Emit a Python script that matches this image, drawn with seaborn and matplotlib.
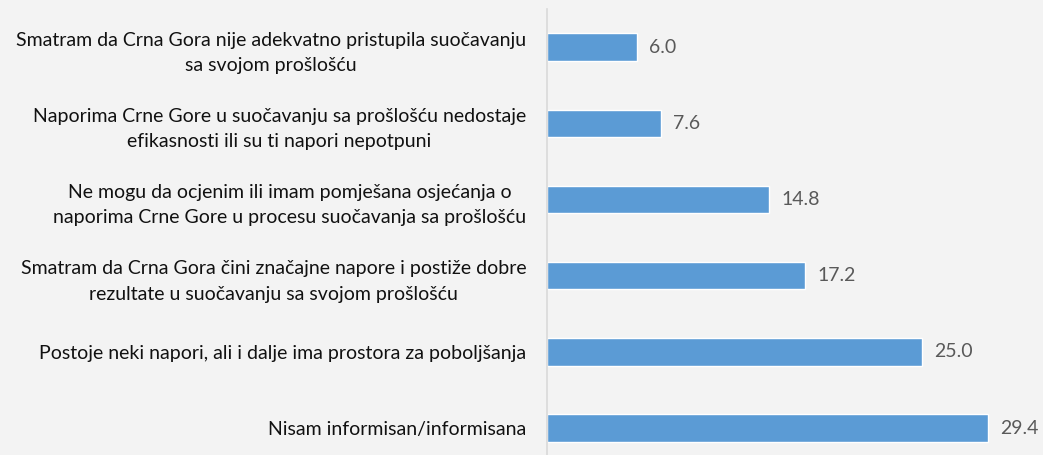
import pandas as pd
import seaborn as sns
import matplotlib.pyplot as plt

labels = [
    "Smatram da Crna Gora nije adekvatno pristupila suočavanju\nsa svojom prošlošću",
    "Naporima Crne Gore u suočavanju sa prošlošću nedostaje\nefikasnosti ili su ti napori nepotpuni",
    "Ne mogu da ocjenim ili imam pomješana osjećanja o\nnaporima Crne Gore u procesu suočavanja sa prošlošću",
    "Smatram da Crna Gora čini značajne napore i postiže dobre\nrezultate u suočavanju sa svojom prošlošću",
    "Postoje neki napori, ali i dalje ima prostora za poboljšanja",
    "Nisam informisan/informisana",
]
values = [6.0, 7.6, 14.8, 17.2, 25.0, 29.4]

df = pd.DataFrame({"label": labels, "value": values})

sns.set_theme(style="white")
plt.rcParams['font.family'] = ['Lato', 'DejaVu Sans']

bg = "#f3f3f3"
fig = plt.figure(figsize=(10.43, 4.55), dpi=100, facecolor=bg)
ax = fig.add_axes([547 / 1043, 0, 1 - 547 / 1043, 446 / 455])
ax.set_facecolor(bg)

sns.barplot(data=df, x="value", y="label", color="#5b9bd5", width=0.36,
            saturation=1, ax=ax)

ax.set_xlim(0, (1043 - 547) / 15)
ax.set_ylim(5.354, -0.5)
ax.bar_label(ax.containers[0], fmt="%.1f", padding=9, fontsize=14, color="#595959")

for s in ["top", "right", "bottom"]:
    ax.spines[s].set_visible(False)
ax.spines["left"].set_color("#d9d9d9")
ax.spines["left"].set_linewidth(1.2)
ax.set_xticks([])
ax.set_xlabel(None)
ax.set_ylabel(None)
ax.tick_params(axis="y", length=0, pad=15)
for t in ax.get_yticklabels():
    t.set_fontsize(14)
    t.set_multialignment("center")
    t.set_linespacing(1.6)
    t.set_color("#111111")

plt.savefig("out.png", dpi=100, facecolor=bg)
plt.close()
